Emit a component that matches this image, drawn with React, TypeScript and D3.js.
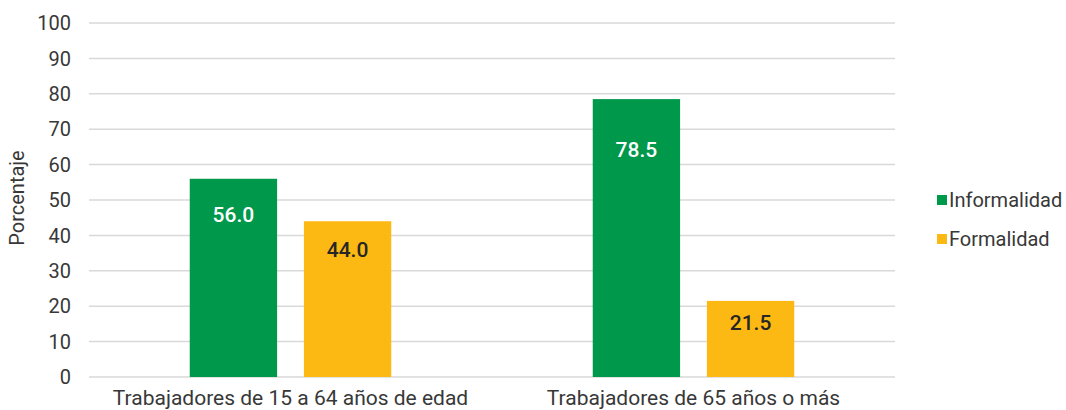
import { useEffect, useRef } from 'react';
import * as d3 from 'd3';

// Porcentaje de trabajadores por condición de formalidad y grupo de edad
const CATEGORIES = ['Trabajadores de 15 a 64 años de edad', 'Trabajadores de 65 años o más'];
const SERIES     = ['Informalidad', 'Formalidad'];
const INFORMAL   = [56.0, 78.5];
const FORMAL     = [44.0, 21.5];
const Y_TICKS    = [0, 10, 20, 30, 40, 50, 60, 70, 80, 90, 100];

const WIDTH  = 1066;
const HEIGHT = 410;
const PLOT   = { left: 89, right: 895, top: 23, bottom: 377 };

const COLORS: Record<string, string> = {
  Informalidad: '#00984a',
  Formalidad:   '#fdb913',
};
const LABEL_COLORS: Record<string, string> = {
  Informalidad: '#ffffff',
  Formalidad:   '#262626',
};
const FONT = 'Roboto, "Noto Sans", sans-serif';

export default function App() {
  const ref = useRef<SVGSVGElement>(null);

  useEffect(() => {
    const svg = d3.select(ref.current);
    svg.selectAll('*').remove();

    const y = d3.scaleLinear().domain([0, 100]).range([PLOT.bottom, PLOT.top]);
    const x0 = d3.scaleBand<string>()
      .domain(CATEGORIES)
      .range([PLOT.left, PLOT.right])
      .paddingInner(0.5)
      .paddingOuter(0.25);
    const x1 = d3.scaleBand<string>()
      .domain(SERIES)
      .range([0, x0.bandwidth()])
      .paddingInner(0.235);

    // ── Grid ──
    svg.append('g')
      .selectAll('line')
      .data(Y_TICKS)
      .join('line')
      .attr('x1', PLOT.left).attr('x2', PLOT.right)
      .attr('y1', (d) => y(d)).attr('y2', (d) => y(d))
      .attr('stroke', '#d9d9d9')
      .attr('stroke-width', 1.5);

    // ── Y tick labels ──
    svg.append('g')
      .selectAll('text')
      .data(Y_TICKS)
      .join('text')
      .attr('x', 71)
      .attr('y', (d) => y(d))
      .attr('dy', '0.36em')
      .attr('text-anchor', 'end')
      .attr('font-family', FONT)
      .attr('font-size', 20)
      .attr('fill', '#383838')
      .text((d) => d);

    // Axis title
    svg.append('text')
      .attr('transform', `translate(24, 198) rotate(-90)`)
      .attr('text-anchor', 'middle')
      .attr('font-family', FONT)
      .attr('font-size', 20)
      .attr('fill', '#383838')
      .text('Porcentaje');

    // ── Bars ──
    const rows = CATEGORIES.map((c, i) => ({
      cat: c,
      vals: [
        { key: 'Informalidad', v: INFORMAL[i] },
        { key: 'Formalidad',   v: FORMAL[i] },
      ],
    }));

    const groups = svg.append('g')
      .selectAll('g')
      .data(rows)
      .join('g')
      .attr('transform', (d) => `translate(${x0(d.cat)},0)`);

    groups.selectAll('rect')
      .data((d) => d.vals)
      .join('rect')
      .attr('x', (d) => x1(d.key)!)
      .attr('width', x1.bandwidth())
      .attr('y', (d) => y(d.v))
      .attr('height', (d) => y(0) - y(d.v))
      .attr('fill', (d) => COLORS[d.key]);

    groups.selectAll('text')
      .data((d) => d.vals)
      .join('text')
      .attr('x', (d) => x1(d.key)! + x1.bandwidth() / 2)
      .attr('y', (d) => y(Math.min(d.v * 0.82, d.v - 6)))
      .attr('dy', '0.36em')
      .attr('text-anchor', 'middle')
      .attr('font-family', FONT)
      .attr('font-size', 21)
      .attr('font-weight', 500)
      .attr('fill', (d) => LABEL_COLORS[d.key])
      .text((d) => d.v.toFixed(1));

    // ── Category labels ──
    svg.append('g')
      .selectAll('text')
      .data(CATEGORIES)
      .join('text')
      .attr('x', (d) => x0(d)! + x0.bandwidth() / 2)
      .attr('y', 405)
      .attr('text-anchor', 'middle')
      .attr('font-family', FONT)
      .attr('font-size', 21)
      .attr('fill', '#383838')
      .text((d) => d);

    // ── Legend ──
    const legend = svg.append('g')
      .selectAll('g')
      .data(SERIES)
      .join('g')
      .attr('transform', (_, i) => `translate(937, ${200 + i * 39})`);
    legend.append('rect')
      .attr('x', 0).attr('y', -5)
      .attr('width', 10).attr('height', 10)
      .attr('fill', (d) => COLORS[d]);
    legend.append('text')
      .attr('x', 12)
      .attr('dy', '0.36em')
      .attr('font-family', FONT)
      .attr('font-size', 20)
      .attr('fill', '#383838')
      .text((d) => d);
  }, []);

  return (
    <svg
      ref={ref}
      width={WIDTH}
      height={HEIGHT}
      style={{ position: 'absolute', left: 0, top: 0, background: '#fff', display: 'block' }}
    />
  );
}
